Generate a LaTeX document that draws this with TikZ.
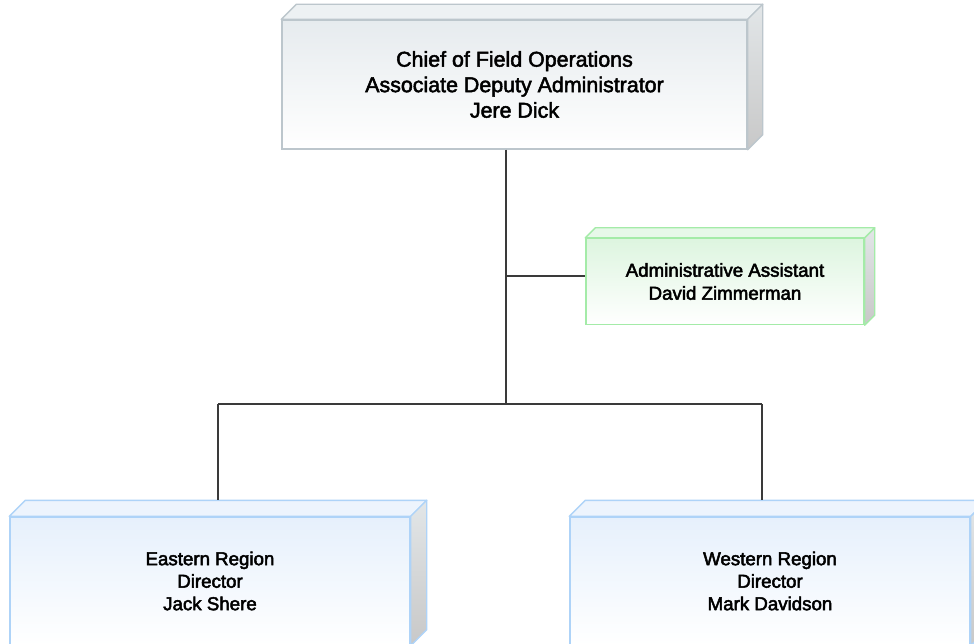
\documentclass[tikz,border=0pt]{standalone}
\usepackage{fontspec}
\setmainfont{Liberation Sans}
\usetikzlibrary{calc}
\newcommand\heavyon{\special{pdf:literal direct 2 Tr 0.5 w}}
\definecolor{grayedge}{HTML}{BCC6CC}
\definecolor{graytop}{HTML}{E6EBEE}
\definecolor{greenedge}{HTML}{A4EBA8}
\definecolor{greentop}{HTML}{DDF5DF}
\definecolor{blueedge}{HTML}{AED3F8}
\definecolor{bluetop}{HTML}{E6F0FC}
\definecolor{sidelight}{HTML}{E2E6E8}
\definecolor{sidedark}{HTML}{C8C8C8}
\definecolor{linec}{HTML}{3A3A3A}
\tikzset{
  boxbase/.style={rectangle, inner sep=0pt, align=center, line width=1.4pt, bottom color=white},
  graybox/.style={boxbase, draw=grayedge, top color=graytop, font=\fontsize{21.4}{25.5}\selectfont\heavyon},
  greenbox/.style={boxbase, draw=greenedge, top color=greentop, font=\fontsize{18.7}{23}\selectfont\heavyon},
  bluebox/.style={boxbase, draw=blueedge, top color=bluetop, font=\fontsize{18.7}{22.5}\selectfont\heavyon},
  conn/.style={draw=linec, line width=1.2pt},
}
\newcommand\depthfaces[4]{% name, depth, edge colour, top colour
  \filldraw[draw=#3, line width=1.4pt, fill=#4!70!white, line join=round]
    (#1.north west) -- ++(#2,-#2) -- ($(#1.north east)+(#2,-#2)$) -- (#1.north east) -- cycle;
  \draw[draw=#3, line width=1.4pt, top color=sidelight, bottom color=sidedark, line join=round]
    (#1.north east) -- ++(#2,-#2) -- ($(#1.south east)+(#2,-#2)$) -- (#1.south east) -- cycle;
}
\begin{document}
\begin{tikzpicture}[x=1pt,y=-1pt]
\useasboundingbox (0,0) rectangle (974,644);
\fill[white] (0,0) rectangle (974,644);

\node[graybox, minimum width=465pt, minimum height=129pt] (chief) at (514.5,84.5)
  {Chief of Field Operations\\Associate Deputy Administrator\\Jere Dick};
\depthfaces{chief}{15}{grayedge}{graytop}

\node[greenbox, minimum width=278pt, minimum height=86pt] (admin) at (725,281.5)
  {Administrative Assistant\\David Zimmerman};
\depthfaces{admin}{10}{greenedge}{greentop}

\node[bluebox, minimum width=400pt, minimum height=128pt] (east) at (210,581)
  {Eastern Region\\Director\\Jack Shere};
\depthfaces{east}{16}{blueedge}{bluetop}

\node[bluebox, minimum width=400pt, minimum height=128pt] (west) at (770,581)
  {Western Region\\Director\\Mark Davidson};
\depthfaces{west}{16}{blueedge}{bluetop}

\coordinate (jadmin) at (506,276);
\coordinate (jbar) at (506,404);
\coordinate (jeast) at (218,404);
\coordinate (jwest) at (762,404);

\draw[conn] ([xshift=-8.5pt]chief.south) -- (jbar);
\draw[conn] (jadmin) -- (jadmin -| admin.west);
\draw[conn] (jeast) -- (jwest);
\draw[conn] (jeast) -- ([yshift=16pt]east.north -| jeast);
\draw[conn] (jwest) -- ([yshift=16pt]west.north -| jwest);
\end{tikzpicture}
\end{document}
